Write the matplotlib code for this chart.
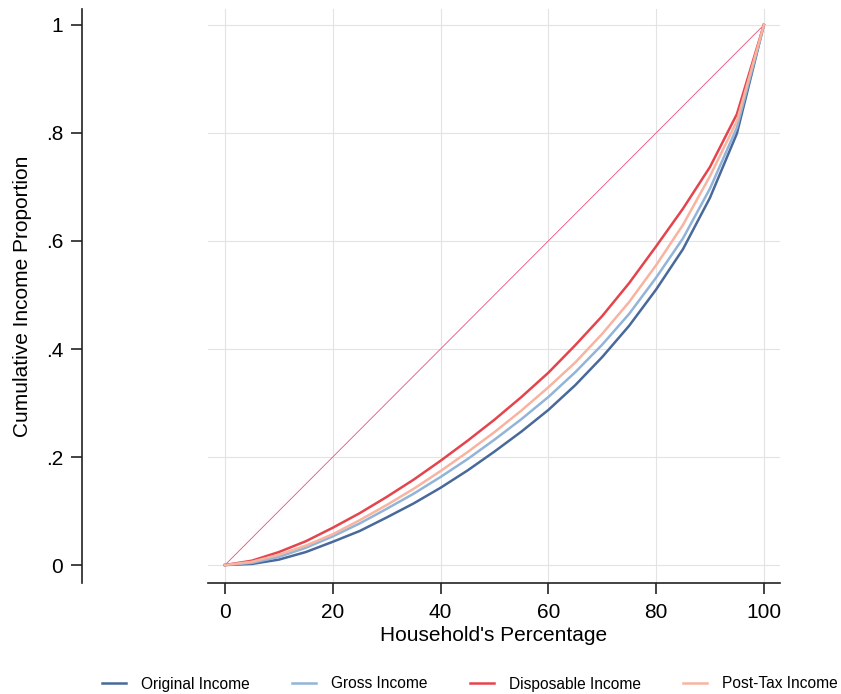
import numpy as np
import matplotlib
matplotlib.use("Agg")
import matplotlib.pyplot as plt

plt.rcParams.update({
    "font.family": ["Liberation Sans", "DejaVu Sans"],
    "font.size": 15,
})

# ── data ───────────────────────────────────────────────────────────────────
household_pct = [0, 5, 10, 15, 20, 25, 30, 35, 40, 45, 50,
                 55, 60, 65, 70, 75, 80, 85, 90, 95, 100]
original_income = [0, 0.002, 0.010, 0.024, 0.043, 0.063, 0.088, 0.114, 0.143, 0.175, 0.210,
                   0.247, 0.287, 0.333, 0.385, 0.443, 0.510, 0.585, 0.680, 0.799, 1.0]
gross_income = [0, 0.004, 0.015, 0.032, 0.053, 0.077, 0.104, 0.132, 0.163, 0.196, 0.232,
                0.270, 0.311, 0.357, 0.408, 0.465, 0.532, 0.605, 0.697, 0.810, 1.0]
disposable_income = [0, 0.008, 0.024, 0.044, 0.069, 0.096, 0.126, 0.158, 0.193, 0.230, 0.269,
                     0.311, 0.356, 0.407, 0.461, 0.522, 0.590, 0.660, 0.737, 0.835, 1.0]
post_tax_income = [0, 0.006, 0.019, 0.036, 0.057, 0.083, 0.111, 0.141, 0.174, 0.209, 0.246,
                   0.286, 0.329, 0.375, 0.428, 0.487, 0.555, 0.630, 0.720, 0.822, 1.0]

SERIES = [
    ("Original Income", original_income, "#48699a"),
    ("Gross Income", gross_income, "#92b4d8"),
    ("Disposable Income", disposable_income, "#e4444c"),
    ("Post-Tax Income", post_tax_income, "#f8b4a0"),
]

x_ticks = [0, 20, 40, 60, 80, 100]
y_ticks = [0, 0.2, 0.4, 0.6, 0.8, 1.0]
y_labels = ["0", ".2", ".4", ".6", ".8", "1"]

# ── figure ─────────────────────────────────────────────────────────────────
W, H = 841, 694
PX = 72 / 100  # points per pixel at dpi 100
fig = plt.figure(figsize=(W / 100, H / 100), dpi=100)
ax = fig.add_axes([208 / W, 1 - 583 / H, (780 - 208) / W, (583 - 9) / H])

# equality line
ax.plot([0, 100], [0, 1], color="#e8527a", linewidth=0.6, zorder=2)

for label, vals, color in SERIES:
    ax.plot(household_pct, vals, color=color, linewidth=1.8, label=label, zorder=3)

ax.set_xlim(-3.15, 103.0)
ax.set_ylim(-0.0333, 1.0296)
ax.set_xticks(x_ticks)
ax.set_yticks(y_ticks)
ax.set_yticklabels(y_labels)
ax.grid(True, color="#e3e3e3", linewidth=0.8)
ax.set_axisbelow(True)

for s in ["top", "right"]:
    ax.spines[s].set_visible(False)
ax.spines["left"].set_position(("outward", 126 * PX))
for s in ["left", "bottom"]:
    ax.spines[s].set_linewidth(1.2)
    ax.spines[s].set_color("#222222")
ax.tick_params(axis="both", length=11 * PX, width=1.2, color="#222222", labelsize=15)
ax.tick_params(axis="x", pad=9 * PX)
ax.tick_params(axis="y", pad=8 * PX)

ax.set_xlabel("Household's Percentage", fontsize=15, labelpad=3)
ax.set_ylabel("Cumulative Income Proportion", fontsize=15, labelpad=10)

fig.legend(loc="center left", bbox_to_anchor=(102 / W, 1 - 684 / H), ncol=4,
           frameon=False, fontsize=11.2, handlelength=1.55, columnspacing=2.7,
           handletextpad=0.97, borderpad=0, borderaxespad=0)

fig.savefig("out.png", dpi=100, facecolor="white")
